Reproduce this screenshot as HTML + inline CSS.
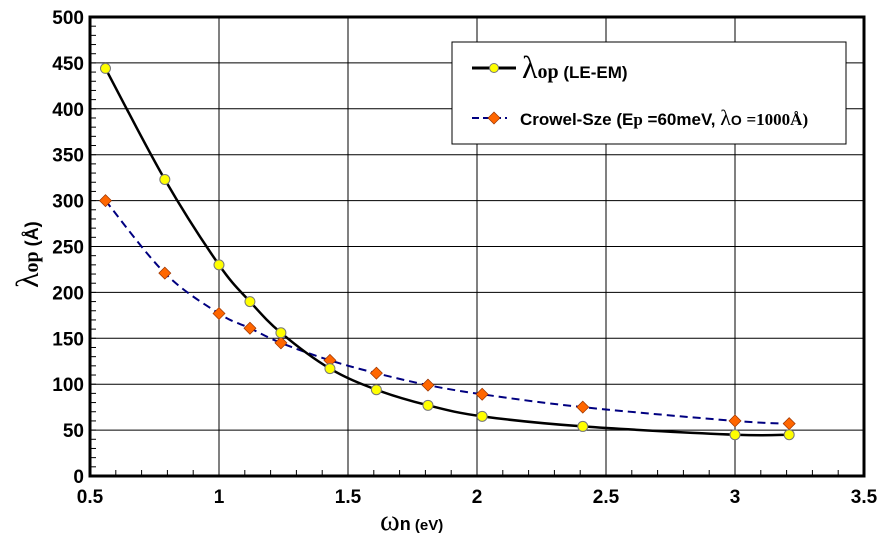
<!DOCTYPE html>
<html><head><meta charset="utf-8"><style>
html,body{margin:0;padding:0;background:#fff}
svg text{font-family:"Liberation Sans",Arial,sans-serif;font-weight:bold}
</style></head><body>
<svg id="chart" width="883" height="537" viewBox="0 0 883 537" xmlns="http://www.w3.org/2000/svg">
<g id="grid"></g>
<g id="ticks"></g>
<g id="series"></g>
<rect x="90" y="17" width="774" height="459" fill="none" stroke="#000" stroke-width="3"/>
<text x="380" y="530" font-size="30" style="font-family:'Liberation Serif',serif;font-weight:normal">ω<tspan font-size="18" style="font-family:'Liberation Sans',sans-serif;font-weight:bold">n</tspan><tspan font-size="15" style="font-family:'Liberation Sans',sans-serif;font-weight:bold"> (eV)</tspan></text>
<text transform="translate(38,288) rotate(-90)" font-size="32" style="font-family:'Liberation Serif',serif;font-weight:normal">λ<tspan font-size="20" style="font-weight:bold">op</tspan><tspan font-size="18" style="font-family:'Liberation Sans',sans-serif;font-weight:bold"> (Å)</tspan></text>
<g>
<rect x="452" y="42" width="394" height="102" fill="#fff" stroke="#000" stroke-width="1"/>
<g>
<line x1="472" y1="68" x2="516" y2="68" stroke="#000" stroke-width="3"/>
<circle cx="494" cy="68" r="4.5" fill="#ffff00" stroke="#777" stroke-width="1"/>
<text x="522" y="78" font-size="32" style="font-family:'Liberation Serif',serif;font-weight:normal">λ<tspan font-size="20" style="font-weight:bold">op</tspan><tspan font-size="17" style="font-family:'Liberation Sans',sans-serif;font-weight:bold"> (LE-EM)</tspan></text>
</g>
<g>
<line x1="472" y1="118" x2="507" y2="118" stroke="#000080" stroke-width="2" stroke-dasharray="7,4"/>
<path d="M494 112 L500 118 L494 124 L488 118 Z" fill="#ff6600" stroke="#993300" stroke-width="0.7"/>
<text x="520" y="125" font-size="17">Crowel-Sze (E<tspan style="font-family:'Liberation Serif',serif">p</tspan> =60meV, <tspan font-size="22" style="font-family:'Liberation Serif',serif;font-weight:normal">λ</tspan><tspan font-size="14">O</tspan> <tspan style="font-family:'Liberation Serif',serif">=1000Å)</tspan></text>
</g>
</g>
</svg>
<script>
const xVals=[0.56,0.79,1.0,1.12,1.24,1.43,1.61,1.81,2.02,2.41,3.0,3.21];
const leemVals=[444,323,230,190,156,117,94,77,65,54,45,45];
const crowelVals=[300,221,177,161,145,126,112,99,89,75,60,57];
const xTicks=[0.5,1,1.5,2,2.5,3,3.5];
const yTicks=[0,50,100,150,200,250,300,350,400,450,500];
const NS='http://www.w3.org/2000/svg';
const X=v=>90+(v-0.5)*258;
const Y=v=>476-v*0.918;
const grid=document.getElementById('grid'),ticks=document.getElementById('ticks'),series=document.getElementById('series');
function mk(tag,attrs,parent){const e=document.createElementNS(NS,tag);for(const k in attrs)e.setAttribute(k,attrs[k]);parent.appendChild(e);return e;}
xTicks.forEach(t=>{
 if(t>0.5&&t<3.5){const l=mk('line',{x1:X(t),x2:X(t),y1:17,y2:476,stroke:'#000','stroke-width':1},grid);
 
 }
 const tx=mk('text',{x:X(t),y:503,'text-anchor':'middle','font-size':19},ticks);tx.textContent=String(t);
 
 
});
yTicks.forEach(t=>{
 if(t>0&&t<500){const l=mk('line',{x1:90,x2:864,y1:Y(t),y2:Y(t),stroke:'#000','stroke-width':1},grid);
 
 }
 const tx=mk('text',{x:84,y:Y(t)+7,'text-anchor':'end','font-size':19},ticks);tx.textContent=String(t);
 
 
});
for(let v=0.6;v<3.5;v+=0.1){mk('line',{x1:X(v),x2:X(v),y1:476,y2:470,stroke:'#000','stroke-width':1},ticks);}
for(let v=10;v<500;v+=10){mk('line',{x1:90,x2:96,y1:Y(v),y2:Y(v),stroke:'#000','stroke-width':1},ticks);}
function smooth(xs,ys){const p=xs.map((x,i)=>[X(x),Y(ys[i])]);let d='M'+p[0][0]+' '+p[0][1];
 for(let i=0;i<p.length-1;i++){const p0=p[i-1]||p[i],p1=p[i],p2=p[i+1],p3=p[i+2]||p2;
 d+=' C'+(p1[0]+(p2[0]-p0[0])/6)+' '+(p1[1]+(p2[1]-p0[1])/6)+' '+(p2[0]-(p3[0]-p1[0])/6)+' '+(p2[1]-(p3[1]-p1[1])/6)+' '+p2[0]+' '+p2[1];}
 return d;}
const cl=mk('path',{d:smooth(xVals,crowelVals),fill:'none',stroke:'#000080','stroke-width':2,'stroke-dasharray':'8,5'},series);


const ll=mk('path',{d:smooth(xVals,leemVals),fill:'none',stroke:'#000','stroke-width':2.5},series);


xVals.forEach((x,i)=>{
 const cx=X(x),cy=Y(crowelVals[i]);
 const d=mk('path',{d:`M${cx} ${cy-6} L${cx+6} ${cy} L${cx} ${cy+6} L${cx-6} ${cy} Z`,fill:'#ff6600',stroke:'#993300','stroke-width':0.7},series);
 
 
 const c=mk('circle',{cx:X(x),cy:Y(leemVals[i]),r:5,fill:'#ffff00',stroke:'#777','stroke-width':1},series);
 
 
});
</script>
</body></html>
